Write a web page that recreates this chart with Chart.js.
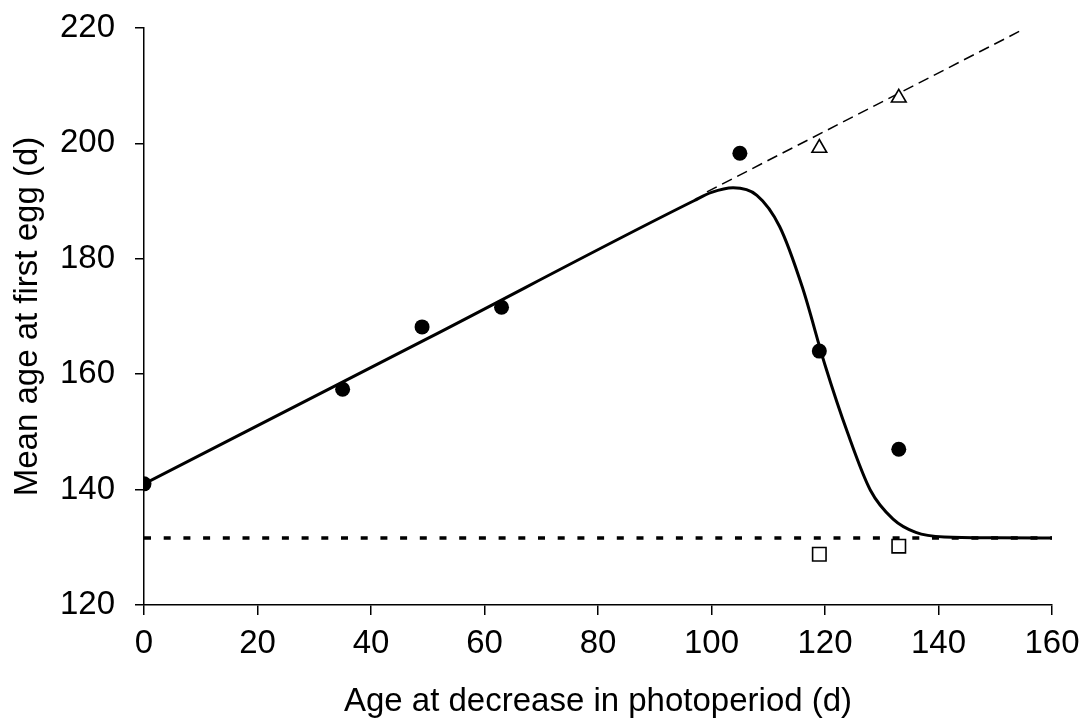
<!DOCTYPE html>
<html>
<head>
<meta charset="utf-8">
<script src="https://cdn.jsdelivr.net/npm/chart.js@4"></script>
<style>
  html, body { margin: 0; padding: 0; background: #fff; }
  #wrap { width: 1083px; height: 726px; position: relative; }
</style>
</head>
<body>
<div id="wrap"><canvas id="eggChart"></canvas></div>
<script>
// observed means (filled circles)
const obsAge = [0, 35, 49, 63, 105, 119, 133];
const obsEgg = [141, 157.4, 168.2, 171.6, 198.3, 164.0, 147.0];
// open triangles and squares
const triAge = [119, 133];
const triEgg = [199.2, 207.9];
const sqAge = [119, 133];
const sqEgg = [128.8, 130.2];
// fitted curve
const fitAge = [0, 50, 97, 100, 103.8, 108, 112, 116, 120, 124, 128, 132, 136, 141, 150, 160];
const fitEgg = [141, 166.2, 190.1, 191.5, 192.3, 191.0, 185.6, 175.1, 161.6, 149.8, 139.9, 134.9, 132.6, 131.8, 131.65, 131.6];
// extrapolated line (dashed) and baseline (dotted)
const extAge = [99.2, 155];
const extEgg = [191.6, 219.8];
const baseAge = [0, 160];
const baseEgg = [131.6, 131.6];

const xTicks = [0, 20, 40, 60, 80, 100, 120, 140, 160];
const yTicks = [120, 140, 160, 180, 200, 220];

const FONT = "'Liberation Sans', Arial, sans-serif";
const FS = 33;

function pts(xs, ys) { return xs.map((x, i) => ({x: x, y: ys[i]})); }

Chart.defaults.font.family = FONT;
Chart.defaults.color = '#000';

const ctx = document.getElementById('eggChart').getContext('2d');
const chart = new Chart(ctx, {
    type: 'scatter',
    data: {
        datasets: [
            { data: pts(obsAge, obsEgg), pointStyle: 'circle', pointRadius: 7.5, backgroundColor: '#000', borderColor: '#000', borderWidth: 0, order: 1 },
            { data: pts(triAge, triEgg), pointStyle: 'triangle', pointRadius: 8.5, backgroundColor: '#fff', borderColor: '#000', borderWidth: 1.6, order: 1 },
            { data: pts(sqAge, sqEgg), pointStyle: 'rect', pointRadius: 9.5, backgroundColor: '#fff', borderColor: '#000', borderWidth: 1.6, order: 1 },
            { data: pts(fitAge, fitEgg), showLine: true, pointRadius: 0, borderColor: '#000', borderWidth: 3, cubicInterpolationMode: 'monotone', order: 2 },
            { data: pts(extAge, extEgg), showLine: true, pointRadius: 0, borderColor: '#000', borderWidth: 1.5, borderDash: [11, 6], order: 3 },
            { data: pts(baseAge, baseEgg), showLine: true, pointRadius: 0, borderColor: '#000', borderWidth: 3.5, borderDash: [7, 12.7], order: 4 }
        ]
    },
    options: {
        responsive: true, maintainAspectRatio: false, animation: false,
        layout: { padding: { top: 28, right: 31, left: 0, bottom: 0 } },
        plugins: { legend: { display: false }, tooltip: { enabled: false } },
        scales: {
            x: {
                type: 'linear', min: 0, max: 160,
                afterBuildTicks: s => { s.ticks = xTicks.map(v => ({value: v})); },
                afterFit: s => { s.height = 121; s.paddingLeft = 0; s.paddingRight = 0; },
                grid: { drawOnChartArea: false, drawTicks: true, tickLength: 10, color: '#000', lineWidth: 1.5 },
                border: { display: true, color: '#000', width: 1.5 },
                ticks: { padding: 9, font: { size: FS }, color: '#000', maxRotation: 0 },
                title: { display: true, text: 'Age at decrease in photoperiod (d)', font: { size: FS }, color: '#000', padding: { top: 0, bottom: 4 } }
            },
            y: {
                type: 'linear', min: 120, max: 220,
                afterBuildTicks: s => { s.ticks = yTicks.map(v => ({value: v})); },
                afterFit: s => { s.width = 144; s.paddingTop = 0; s.paddingBottom = 0; },
                grid: { drawOnChartArea: false, drawTicks: true, tickLength: 9, color: '#000', lineWidth: 1.5 },
                border: { display: true, color: '#000', width: 1.5 },
                ticks: { padding: 20, font: { size: FS }, color: '#000' },
                title: { display: true, text: 'Mean age at first egg (d)', font: { size: FS }, color: '#000', padding: { top: 8, bottom: 0 } }
            }
        }
    }
});
</script>
</body>
</html>
